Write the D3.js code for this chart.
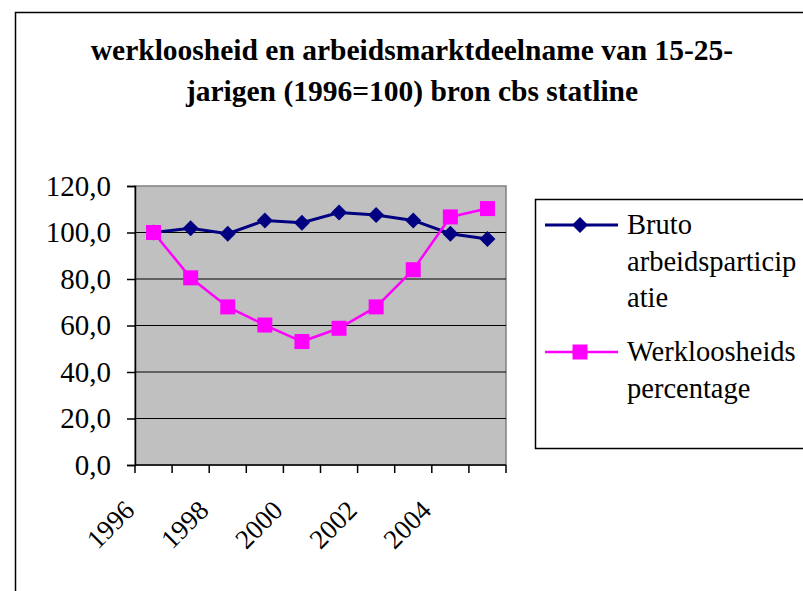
<!DOCTYPE html>
<html>
<head>
<meta charset="utf-8">
<script src="https://cdn.jsdelivr.net/npm/d3@7"></script>
<style>
  body { margin: 0; background: #fff; }
  svg { display: block; }
  svg text { font-family: "Liberation Serif", "Times New Roman", Times, "DejaVu Serif", serif; }
</style>
</head>
<body>
<figure id="chart" style="margin:0"></figure>
<script>
// data (1996 = 100)
var years = ["1996", "1997", "1998", "1999", "2000", "2001", "2002", "2003", "2004", "2005"];
var bruto = [100, 101.8, 99.5, 105.2, 104.2, 108.6, 107.5, 105.2, 99.5, 97.2];
var werkloos = [100, 80.5, 68, 60.2, 53.1, 58.8, 68, 84, 106.7, 110.3];
var yTicks = [0, 20, 40, 60, 80, 100, 120];
var xLabels = ["1996", "1998", "2000", "2002", "2004"];
var seriesNames = [["Bruto", "arbeidsparticip", "atie"], ["Werkloosheids", "percentage"]];

var W = 803, H = 591;
var plot = {left: 135, right: 506, top: 186, bottom: 465};

var svg = d3.select("#chart").append("svg")
    .attr("width", W)
    .attr("height", H);

// outer chart border
svg.append("rect")
    .attr("x", 15.5).attr("y", 12.5)
    .attr("width", W + 10).attr("height", H + 10)
    .attr("fill", "#fff").attr("stroke", "#000").attr("stroke-width", 1.5);

// title
var title = svg.append("text")
    .attr("text-anchor", "middle")
    .attr("font-weight", "bold")
    .attr("font-size", 29.5);
title.append("tspan").attr("x", 412).attr("y", 60).text("werkloosheid en arbeidsmarktdeelname van 15-25-");
title.append("tspan").attr("x", 412).attr("y", 101).text("jarigen (1996=100) bron cbs statline");

var x = d3.scaleBand()
    .domain(years)
    .range([plot.left, plot.right]);

var y = d3.scaleLinear()
    .domain([0, 120])
    .range([plot.bottom, plot.top]);

// plot area
svg.append("rect")
    .attr("x", plot.left).attr("y", plot.top)
    .attr("width", plot.right - plot.left).attr("height", plot.bottom - plot.top)
    .attr("fill", "#c0c0c0").attr("stroke", "#808080").attr("stroke-width", 1.5);

// gridlines
svg.append("g")
    .selectAll("line")
    .data(yTicks.filter(function(d) { return d > 0 && d < 120; }))
    .enter().append("line")
    .attr("x1", plot.left).attr("x2", plot.right)
    .attr("y1", function(d) { return y(d); }).attr("y2", function(d) { return y(d); })
    .attr("stroke", "#000").attr("stroke-width", 1);

// y axis
var yAxis = svg.append("g")
    .attr("transform", "translate(" + plot.left + ",0)")
    .call(d3.axisLeft(y).tickValues(yTicks).tickSize(8).tickPadding(16)
        .tickFormat(function(d) { return d3.format(".1f")(d).replace(".", ","); }));
yAxis.attr("font-family", null);
yAxis.selectAll("text")
    .attr("font-size", 29)
    .attr("fill", "#000");
yAxis.selectAll("line, path").attr("stroke", "#000").attr("stroke-width", 1.5);

// x axis: ticks between categories
var xAxis = svg.append("g")
    .attr("transform", "translate(0," + plot.bottom + ")");
xAxis.append("line")
    .attr("x1", plot.left).attr("x2", plot.right)
    .attr("stroke", "#000").attr("stroke-width", 1.5);
xAxis.selectAll("line.tick")
    .data(years.concat(["end"]))
    .enter().append("line")
    .attr("class", "tick")
    .attr("x1", function(d) { return d === "end" ? plot.right : x(d); })
    .attr("x2", function(d) { return d === "end" ? plot.right : x(d); })
    .attr("y1", 0).attr("y2", 8)
    .attr("stroke", "#000").attr("stroke-width", 1.5);
xAxis.selectAll("text")
    .data(xLabels)
    .enter().append("text")
    .attr("transform", function(d) { return "translate(" + (x(d) + 1) + ",47) rotate(-45)"; })
    .attr("text-anchor", "end")
    .attr("font-size", 27)
    .text(function(d) { return d; });

var cx = function(i) { return x(years[i]) + x.bandwidth() / 2; };
var line = d3.line()
    .x(function(d, i) { return cx(i); })
    .y(function(d) { return y(d); });

// bruto arbeidsparticipatie
svg.append("path")
    .datum(bruto)
    .attr("d", line)
    .attr("fill", "none").attr("stroke", "#000080").attr("stroke-width", 3);
svg.append("g")
    .selectAll("path")
    .data(bruto)
    .enter().append("path")
    .attr("transform", function(d, i) { return "translate(" + cx(i) + "," + y(d) + ")"; })
    .attr("d", "M0,-8L8,0L0,8L-8,0Z")
    .attr("fill", "#000080");

// werkloosheids percentage
svg.append("path")
    .datum(werkloos)
    .attr("d", line)
    .attr("fill", "none").attr("stroke", "#ff00ff").attr("stroke-width", 2.5);
svg.append("g")
    .selectAll("rect")
    .data(werkloos)
    .enter().append("rect")
    .attr("x", function(d, i) { return cx(i) - 7.5; })
    .attr("y", function(d) { return y(d) - 7.5; })
    .attr("width", 15).attr("height", 15)
    .attr("fill", "#ff00ff");

// legend
var legend = svg.append("g");
legend.append("rect")
    .attr("x", 535.5).attr("y", 199.5)
    .attr("width", 300).attr("height", 249)
    .attr("fill", "#fff").attr("stroke", "#000").attr("stroke-width", 1.5);

var legendY = [225, 352];
var colors = ["#000080", "#ff00ff"];
seriesNames.forEach(function(lines, k) {
    var ly = legendY[k];
    legend.append("line")
        .attr("x1", 545).attr("x2", 618)
        .attr("y1", ly).attr("y2", ly)
        .attr("stroke", colors[k]).attr("stroke-width", k === 0 ? 3 : 2.5);
    if (k === 0) {
        legend.append("path")
            .attr("transform", "translate(580," + ly + ")")
            .attr("d", "M0,-8L8,0L0,8L-8,0Z")
            .attr("fill", colors[k]);
    } else {
        legend.append("rect")
            .attr("x", 580 - 7.5).attr("y", ly - 7.5)
            .attr("width", 15).attr("height", 15)
            .attr("fill", colors[k]);
    }
    var t = legend.append("text")
        .attr("font-size", 28.5);
    lines.forEach(function(s, j) {
        t.append("tspan").attr("x", 627).attr("y", ly + 9 + j * 36.5).text(s);
    });
});
</script>
</body>
</html>
